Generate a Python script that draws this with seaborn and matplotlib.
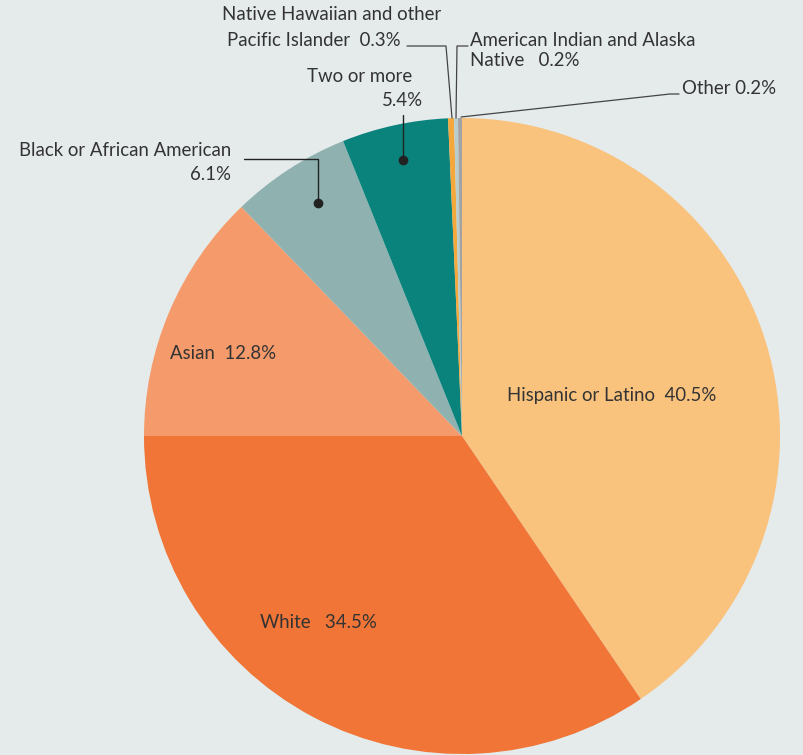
import matplotlib
matplotlib.use("Agg")
import matplotlib.pyplot as plt
import seaborn as sns

# ==================== DATA ====================
groups = ["Hispanic or Latino", "White", "Asian", "Black or African American",
          "Two or more", "Native Hawaiian and other Pacific Islander",
          "American Indian and Alaska Native", "Other"]
shares = [40.5, 34.5, 12.8, 6.1, 5.4, 0.3, 0.2, 0.2]
colors = ["#F9C37E", "#F07536", "#F59B6B", "#8FB2B1", "#0B837D", "#F4A73A", "#B9CDCD", "#A3A3A3"]

# ==================== STYLE ====================
bg = "#E5EBEB"
sns.set_style("white", {"axes.facecolor": bg, "figure.facecolor": bg})
plt.rcParams["font.family"] = ["Lato", "DejaVu Sans"]
txt = "#333333"
fs = 13.4

W, H = 804, 755
fig = plt.figure(figsize=(W / 100, H / 100), dpi=100)
ax = fig.add_axes([0, 0, 1, 1])

def Y(py):  # pixel row -> data y
    return H - py

cx, cy, r = 462, Y(436), 318
ax.pie(shares, colors=sns.color_palette(colors), startangle=90, counterclock=False,
       center=(cx, cy), radius=r, wedgeprops={"linewidth": 0})
# pie resets the limits, so set them afterwards
ax.set_xlim(0, W)
ax.set_ylim(0, H)
ax.set_aspect("equal")
ax.axis("off")

# ==================== LABELS ====================
ax.text(612, Y(396), f"{groups[0]}  {shares[0]}%", fontsize=fs, color=txt, ha="center", va="center")
ax.text(318, Y(622), f"{groups[1]}   {shares[1]}%", fontsize=fs, color=txt, ha="center", va="center")
ax.text(223, Y(354), f"{groups[2]}  {shares[2]}%", fontsize=fs, color=txt, ha="center", va="center")

# black or african american
ax.text(231, Y(151), groups[3], fontsize=fs, color=txt, ha="right", va="center")
ax.text(231, Y(175), f"{shares[3]}%", fontsize=fs, color=txt, ha="right", va="center")
ax.plot([244, 318, 318], [Y(159), Y(159), Y(203)], color="#222222", lw=1)
ax.plot(318, Y(203), "o", color="#222222", ms=6)

# two or more
ax.text(412, Y(77), groups[4], fontsize=fs, color=txt, ha="right", va="center")
ax.text(423, Y(100), f"{shares[4]}%", fontsize=fs, color=txt, ha="right", va="center")
ax.plot([403, 403], [Y(115), Y(160)], color="#222222", lw=1)
ax.plot(403, Y(160), "o", color="#222222", ms=6)

# native hawaiian
ax.text(441, Y(15), "Native Hawaiian and other", fontsize=fs, color=txt, ha="right", va="center")
ax.text(401, Y(41), f"Pacific Islander  {shares[5]}%", fontsize=fs, color=txt, ha="right", va="center")
ax.plot([407, 446, 452], [Y(46), Y(46), Y(118)], color="#444444", lw=0.9)

# american indian
ax.text(470, Y(41), "American Indian and Alaska", fontsize=fs, color=txt, ha="left", va="center")
ax.text(470, Y(60), f"Native   {shares[6]}%", fontsize=fs, color=txt, ha="left", va="center")
ax.plot([468, 457, 456], [Y(46), Y(46), Y(118)], color="#444444", lw=0.9)

# other
ax.text(682, Y(88), f"{groups[7]} {shares[7]}%", fontsize=fs, color=txt, ha="left", va="center")
ax.plot([679, 670, 461], [Y(94), Y(94), Y(117)], color="#444444", lw=0.9)

plt.savefig("out.png", dpi=100, facecolor=bg)
plt.close()
